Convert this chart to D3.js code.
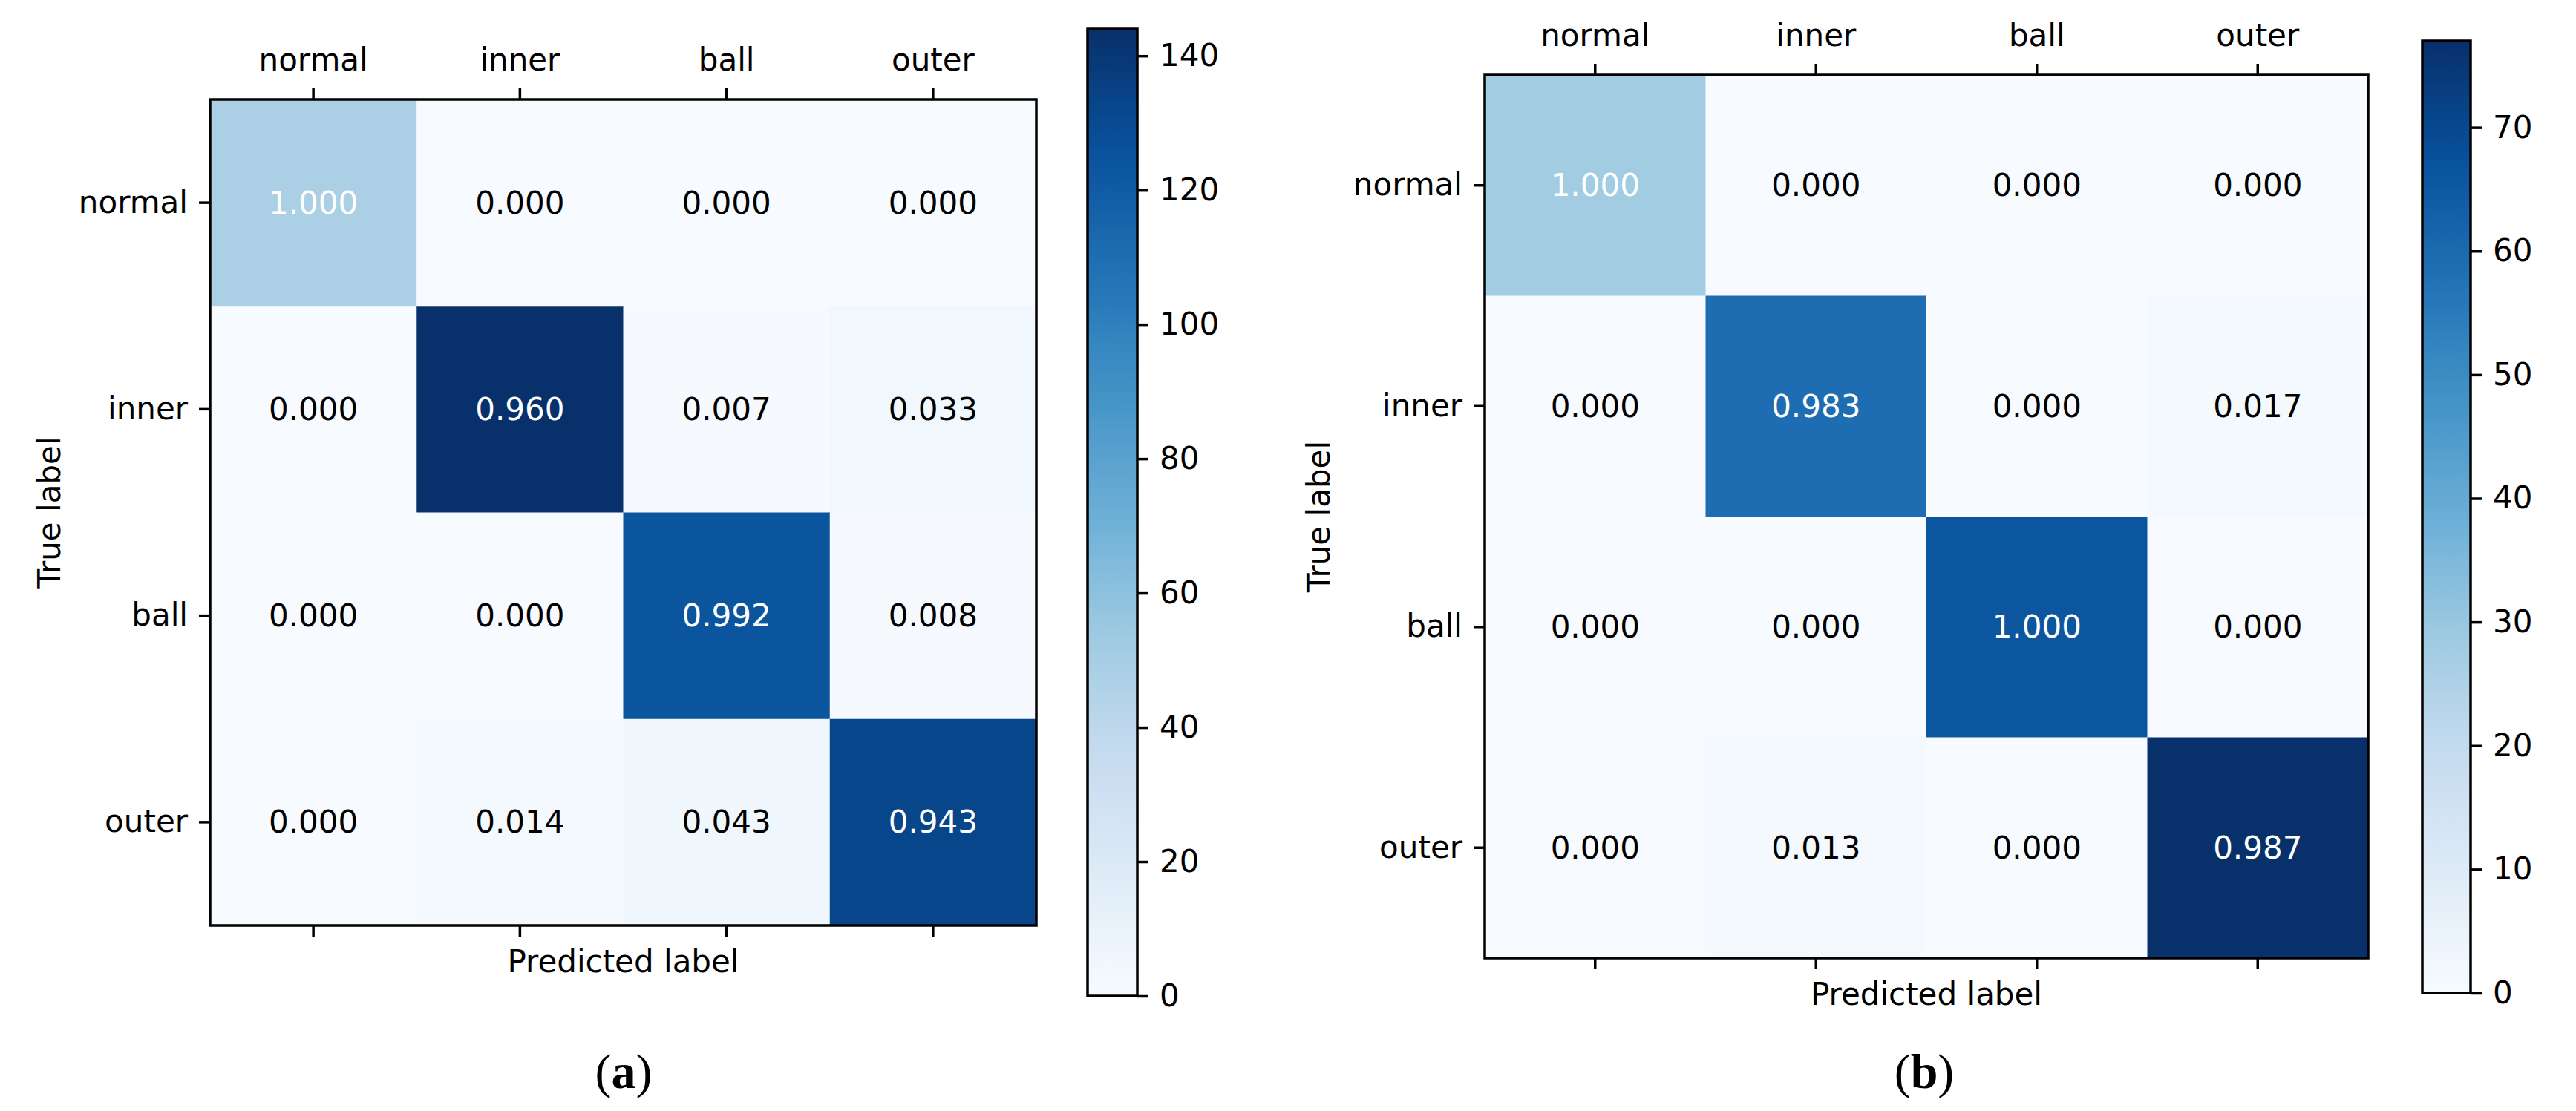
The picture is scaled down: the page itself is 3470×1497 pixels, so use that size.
<!DOCTYPE html>
<html>
<head>
<meta charset="utf-8">
<script src="https://cdn.jsdelivr.net/npm/d3@7"></script>
<style>
  html, body { margin: 0; padding: 0; background: #ffffff; }
  svg { display: block; }
  text { font-family: "DejaVu Sans", sans-serif; fill: #000; }
</style>
</head>
<body>
<svg id="chart" width="3470" height="1497"></svg>
<script>
// ---------- DATA ----------
const categories = ["normal", "inner", "ball", "outer"];
// confusion-matrix counts (rows = true label, columns = predicted label)
const countsA = [
  [48, 0, 0, 0],
  [0, 144, 1, 5],
  [0, 0, 124, 1],
  [0, 2, 6, 132]
];
const countsB = [
  [28, 0, 0, 0],
  [0, 59, 0, 1],
  [0, 0, 66, 0],
  [0, 1, 0, 77]
];
const colorbarTicksA = [0, 20, 40, 60, 80, 100, 120, 140];
const colorbarTicksB = [0, 10, 20, 30, 40, 50, 60, 70];
const panelLabels = ["a", "b"];
const blues = ["#f7fbff", "#deebf7", "#c6dbef", "#9ecae1", "#6baed6", "#4292c6", "#2171b5", "#08519c", "#08306b"];

// ---------- LAYOUT ----------
const panels = [
  { counts: countsA, ticks: colorbarTicksA, label: panelLabels[0],
    x: 283, y: 134, size: 1113,
    cb: { x: 1465, y: 39, w: 67, h: 1303 },
    ylabX: 66, labelX: 840 },
  { counts: countsB, ticks: colorbarTicksB, label: panelLabels[1],
    x: 2000, y: 101, size: 1190,
    cb: { x: 3263, y: 55, w: 65, h: 1283 },
    ylabX: 1776, labelX: 2592 }
];

const svg = d3.select("#chart");
const FS = 42, TICK = 15, PAD = 15, LW = 3.5;
const defs = svg.append("defs");

panels.forEach((p, pi) => {
  const n = categories.length;
  const vmax = d3.max(p.counts.flat());
  const color = d3.scaleLinear()
    .domain(blues.map((_, i) => i / (blues.length - 1) * vmax))
    .range(blues)
    .interpolate(d3.interpolateRgb);

  const x = d3.scaleBand().domain(categories).range([p.x, p.x + p.size]);
  const y = d3.scaleBand().domain(categories).range([p.y, p.y + p.size]);

  const g = svg.append("g");

  // cells
  const cells = [];
  p.counts.forEach((row, i) => {
    const tot = d3.sum(row);
    row.forEach((v, j) => cells.push({ t: categories[i], pr: categories[j], v, norm: v / tot }));
  });

  g.selectAll("rect.cell").data(cells).enter().append("rect")
    .attr("class", "cell")
    .attr("x", d => x(d.pr))
    .attr("y", d => y(d.t))
    .attr("width", x.bandwidth() + 0.5)
    .attr("height", y.bandwidth() + 0.5)
    .attr("fill", d => color(d.v));

  g.selectAll("text.val").data(cells).enter().append("text")
    .attr("class", "val")
    .attr("x", d => x(d.pr) + x.bandwidth() / 2)
    .attr("y", d => y(d.t) + y.bandwidth() / 2)
    .attr("text-anchor", "middle")
    .attr("dominant-baseline", "central")
    .attr("font-size", FS)
    .style("fill", d => d.norm > 0.5 ? "#ffffff" : "#000000")
    .text(d => d3.format(".3f")(d.norm));

  // frame
  g.append("rect")
    .attr("x", p.x).attr("y", p.y)
    .attr("width", p.size).attr("height", p.size)
    .attr("fill", "none").attr("stroke", "#000").attr("stroke-width", LW);

  // top axis (labels) and bottom ticks
  const top = d3.axisTop(x).tickSize(TICK).tickPadding(PAD);
  const gTop = g.append("g").attr("transform", `translate(0,${p.y})`).call(top);
  gTop.select(".domain").remove();
  gTop.selectAll("line").attr("stroke", "#000").attr("stroke-width", LW);
  gTop.selectAll("text").attr("font-size", FS).attr("font-family", "DejaVu Sans").attr("dy", "-0.22em");

  const bottom = d3.axisBottom(x).tickSize(TICK).tickFormat("");
  const gBot = g.append("g").attr("transform", `translate(0,${p.y + p.size})`).call(bottom);
  gBot.select(".domain").remove();
  gBot.selectAll("line").attr("stroke", "#000").attr("stroke-width", LW);

  const left = d3.axisLeft(y).tickSize(TICK).tickPadding(PAD);
  const gLeft = g.append("g").attr("transform", `translate(${p.x},0)`).call(left);
  gLeft.select(".domain").remove();
  gLeft.selectAll("line").attr("stroke", "#000").attr("stroke-width", LW);
  gLeft.selectAll("text").attr("font-size", FS).attr("font-family", "DejaVu Sans");

  // axis titles
  g.append("text")
    .attr("x", p.x + p.size / 2)
    .attr("y", p.y + p.size + TICK + 17)
    .attr("text-anchor", "middle")
    .attr("dominant-baseline", "hanging")
    .attr("font-size", FS)
    .text("Predicted label");

  g.append("text")
    .attr("transform", `translate(${p.ylabX},${p.y + p.size / 2}) rotate(-90)`)
    .attr("text-anchor", "middle")
    .attr("dominant-baseline", "central")
    .attr("font-size", FS)
    .text("True label");

  // colorbar
  const gradId = "grad" + pi;
  const grad = defs.append("linearGradient").attr("id", gradId)
    .attr("x1", 0).attr("y1", 1).attr("x2", 0).attr("y2", 0);
  d3.range(0, 1.0001, 1 / 32).forEach(t => {
    grad.append("stop").attr("offset", t).attr("stop-color", color(t * vmax));
  });
  const cbScale = d3.scaleLinear().domain([0, vmax]).range([p.cb.y + p.cb.h, p.cb.y]);
  g.append("rect")
    .attr("x", p.cb.x).attr("y", p.cb.y)
    .attr("width", p.cb.w).attr("height", p.cb.h)
    .attr("fill", `url(#${gradId})`)
    .attr("stroke", "#000").attr("stroke-width", LW);
  const cbAxis = d3.axisRight(cbScale).tickValues(p.ticks).tickSize(TICK).tickPadding(PAD);
  const gCb = g.append("g").attr("transform", `translate(${p.cb.x + p.cb.w},0)`).call(cbAxis);
  gCb.select(".domain").remove();
  gCb.selectAll("line").attr("stroke", "#000").attr("stroke-width", LW);
  gCb.selectAll("text").attr("font-size", FS).attr("font-family", "DejaVu Sans");

  // panel label (a)/(b)
  const lab = svg.append("text")
    .attr("x", p.labelX)
    .attr("y", 1443)
    .attr("text-anchor", "middle")
    .attr("dominant-baseline", "central")
    .style("font-family", "'Liberation Serif', serif")
    .attr("font-size", 66);
  lab.append("tspan").text("(");
  lab.append("tspan").attr("font-weight", "bold").text(p.label);
  lab.append("tspan").text(")");
});
</script>
</body>
</html>
